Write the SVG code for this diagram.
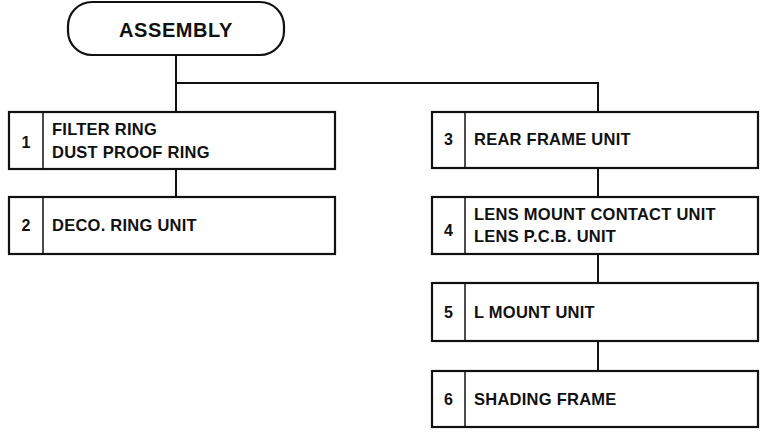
<svg xmlns="http://www.w3.org/2000/svg" width="765" height="434" viewBox="0 0 765 434">
<style>
.bx{fill:#fff;stroke:#111;stroke-width:2.2}
.dv{stroke:#111;stroke-width:1.5}
.ln{stroke:#111;stroke-width:2;fill:none}
text{font-family:"Liberation Sans",Arial,sans-serif;font-weight:bold;fill:#111}
.t{font-size:16.5px;letter-spacing:0.25px}
.n{font-size:16px;text-anchor:middle}
.h{font-size:20px;letter-spacing:0.6px;text-anchor:middle}
</style>
<rect width="765" height="434" fill="#fff"/>
<g id="connectors">
<path class="ln" d="M176 55V112M176 83H598V112"/>
<path class="ln" d="M176 169V197"/>
<path class="ln" d="M598 168V197"/>
<path class="ln" d="M598 254V283"/>
<path class="ln" d="M598 341V371"/>
</g>
<g id="assembly">
<rect class="bx" x="68" y="2" width="216" height="53" rx="24"/>
<text class="h" x="176" y="36.5">ASSEMBLY</text>
</g>
<g id="node1">
<rect class="bx" x="9" y="112" width="326" height="57"/>
<line class="dv" x1="43" y1="112" x2="43" y2="169"/>
<text class="n" x="26" y="148">1</text>
<text class="t" x="52" y="135">FILTER RING</text>
<text class="t" x="52" y="157.5">DUST PROOF RING</text>
</g>
<g id="node2">
<rect class="bx" x="9" y="197" width="326" height="57"/>
<line class="dv" x1="43" y1="197" x2="43" y2="254"/>
<text class="n" x="26" y="231">2</text>
<text class="t" x="52" y="231">DECO. RING UNIT</text>
</g>
<g id="node3">
<rect class="bx" x="432" y="112" width="326" height="56"/>
<line class="dv" x1="465" y1="112" x2="465" y2="168"/>
<text class="n" x="448.5" y="145">3</text>
<text class="t" x="474" y="145">REAR FRAME UNIT</text>
</g>
<g id="node4">
<rect class="bx" x="432" y="197" width="326" height="57"/>
<line class="dv" x1="465" y1="197" x2="465" y2="254"/>
<text class="n" x="448.5" y="236">4</text>
<text class="t" x="474" y="219.5">LENS MOUNT CONTACT UNIT</text>
<text class="t" x="474" y="241.7">LENS P.C.B. UNIT</text>
</g>
<g id="node5">
<rect class="bx" x="432" y="283" width="326" height="58"/>
<line class="dv" x1="465" y1="283" x2="465" y2="341"/>
<text class="n" x="448.5" y="317.5">5</text>
<text class="t" x="474" y="317.5">L MOUNT UNIT</text>
</g>
<g id="node6">
<rect class="bx" x="432" y="371" width="326" height="56"/>
<line class="dv" x1="465" y1="371" x2="465" y2="427"/>
<text class="n" x="448.5" y="404.5">6</text>
<text class="t" x="474" y="404.5">SHADING FRAME</text>
</g>
</svg>
